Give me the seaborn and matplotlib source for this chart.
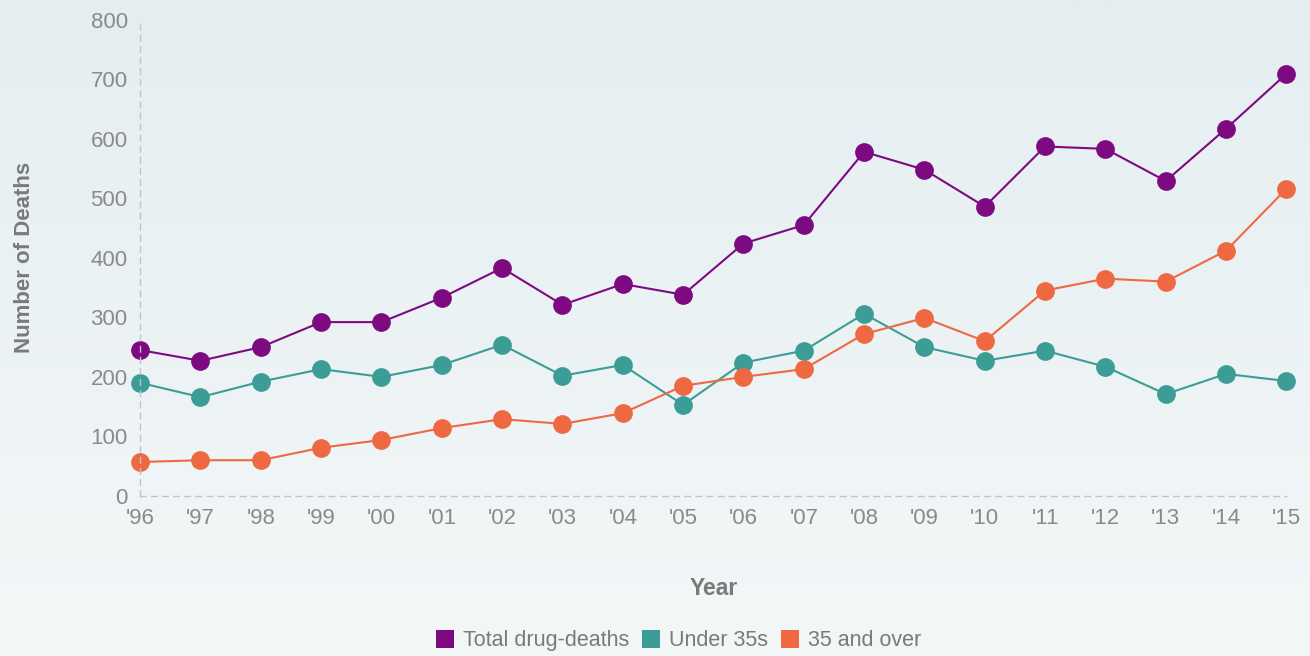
import numpy as np
import pandas as pd
import matplotlib.pyplot as plt
import seaborn as sns
from matplotlib.lines import Line2D
from matplotlib.colors import LinearSegmentedColormap

# data
years = ["'96", "'97", "'98", "'99", "'00", "'01", "'02", "'03", "'04", "'05",
         "'06", "'07", "'08", "'09", "'10", "'11", "'12", "'13", "'14", "'15"]
total = [245, 227, 250, 292, 292, 333, 383, 321, 356, 338,
         424, 455, 578, 548, 486, 587, 583, 529, 617, 709]
under35 = [190, 166, 192, 213, 200, 220, 254, 202, 220, 153,
           224, 244, 306, 250, 227, 244, 217, 171, 205, 193]
over35 = [57, 60, 60, 81, 94, 114, 129, 121, 139, 185,
          200, 213, 272, 299, 260, 345, 365, 360, 412, 516]
series = ["Total drug-deaths", "Under 35s", "35 and over"]
colors = ["#7d0a80", "#3b9d95", "#ee6942"]

df = pd.DataFrame({
    "idx": list(range(len(years))) * 3,
    "deaths": total + under35 + over35,
    "series": np.repeat(series, len(years)),
})

sns.set_style("white")
plt.rcParams['font.family'] = ['Liberation Sans', 'DejaVu Sans']

fig = plt.figure(figsize=(13.1, 6.56), dpi=100)

# soft background gradient
bg = fig.add_axes([0, 0, 1, 1], zorder=-10)
grad = np.linspace(0, 1, 256).reshape(-1, 1)
cmap = LinearSegmentedColormap.from_list("bg", ["#e4eef1", "#f4f7f8"])
bg.imshow(grad, aspect="auto", cmap=cmap, extent=[0, 1, 0, 1])
bg.axis("off")

ax = fig.add_axes([0.107, 0.244, 0.875, 0.726])
ax.set_facecolor("none")

sns.lineplot(data=df, x="idx", y="deaths", hue="series", palette=colors,
             marker="o", markersize=13.5, markeredgewidth=0, linewidth=1.5,
             legend=False, ax=ax, clip_on=False)

ax.set_xlim(0, len(years) - 1)
ax.set_ylim(0, 800)
ax.set_xticks(range(len(years)))
ax.set_xticklabels(years)
ax.set_yticks(range(0, 801, 100))
ax.tick_params(axis="x", labelsize=16, colors="#8a8a8a", length=0, pad=9)
ax.tick_params(axis="y", labelsize=16, colors="#8a8a8a", length=0, pad=9)

for s in ["top", "right"]:
    ax.spines[s].set_visible(False)
for s in ["left", "bottom"]:
    ax.spines[s].set_color("#c0c4c6")
    ax.spines[s].set_linestyle((0, (4, 4)))
    ax.spines[s].set_linewidth(1)

ax.set_xlabel("Year", fontsize=16.5, fontweight="bold", color="#7a7a7a", labelpad=34)
ax.set_ylabel("Number of Deaths", fontsize=16, fontweight="bold", color="#7a7a7a", labelpad=40)

handles = [Line2D([0], [0], marker="s", linestyle="", markersize=13,
                  markerfacecolor=c, markeredgewidth=0) for c in colors]
fig.legend(handles, series, loc="center", bbox_to_anchor=(0.518, 0.023), ncol=3,
           frameon=False, fontsize=15.5, handlelength=0.8, handletextpad=0.45,
           columnspacing=0.6, labelcolor="#7a7a7a")

fig.savefig("out.png", dpi=100)
